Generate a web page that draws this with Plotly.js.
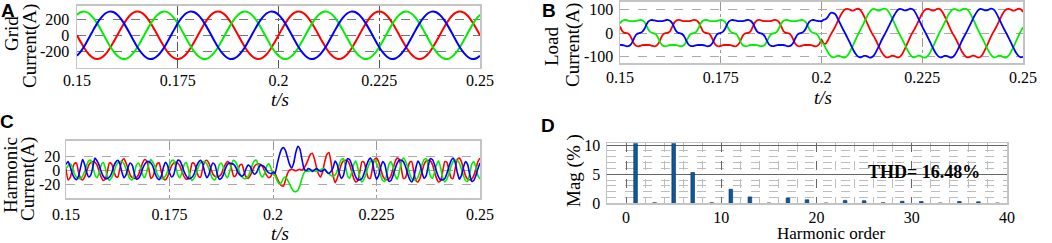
<!DOCTYPE html>
<html><head><meta charset="utf-8">
<script src="https://cdn.plot.ly/plotly-3.0.1.min.js"></script>
<style>html,body{margin:0;padding:0;background:#fff;}#chart{width:1052px;height:243px;}</style>
</head><body><div id="chart"></div>
<script>
// ---------- time bases ----------
const tStart = 0.15;
const dtGrid = 0.001;     // panel A sample step (s)
const dtLoad = 0.0005;    // panels B and C sample step (s)
const timeTicks = [0.15, 0.175, 0.2, 0.225, 0.25];
const timeTickText = ['0.15', '0.175', '0.2', '0.225', '0.25'];

// ---------- Panel A: grid current (A) ----------
const gridRed = [0,-91,-173,-239,-281,-295,-281,-239,-173,-91,0,91,173,239,281,295,281,239,173,91,
0,-91,-173,-239,-281,-295,-281,-239,-173,-91,0,91,173,239,281,295,281,239,173,91,
0,-91,-173,-239,-281,-295,-281,-239,-173,-91,0,91,173,239,281,295,281,239,173,91,
0,-91,-173,-239,-281,-295,-281,-239,-173,-91,0,91,173,239,281,295,281,239,173,91,
0,-91,-173,-239,-281,-295,-281,-239,-173,-91,0,91,173,239,281,295,281,239,173,91,0];
const gridGreen = [255,289,294,270,219,148,61,-31,-120,-197,-255,-289,-294,-270,-219,-148,-61,31,120,197,
255,289,294,270,219,148,61,-31,-120,-197,-255,-289,-294,-270,-219,-148,-61,31,120,197,
255,289,294,270,219,148,61,-31,-120,-197,-255,-289,-294,-270,-219,-148,-61,31,120,197,
255,289,294,270,219,148,61,-31,-120,-197,-255,-289,-294,-270,-219,-148,-61,31,120,197,
255,289,294,270,219,148,61,-31,-120,-197,-255,-289,-294,-270,-219,-148,-61,31,120,197,255];
const gridBlue = [-255,-197,-120,-31,61,148,219,270,294,289,255,197,120,31,-61,-148,-219,-270,-294,-289,
-255,-197,-120,-31,61,148,219,270,294,289,255,197,120,31,-61,-148,-219,-270,-294,-289,
-255,-197,-120,-31,61,148,219,270,294,289,255,197,120,31,-61,-148,-219,-270,-294,-289,
-255,-197,-120,-31,61,148,219,270,294,289,255,197,120,31,-61,-148,-219,-270,-294,-289,
-255,-197,-120,-31,61,148,219,270,294,289,255,197,120,31,-61,-148,-219,-270,-294,-289,-255];

// ---------- Panel B: load current (A) ----------
const loadRed = [28,10,2,0,-2,-10,-28,-45,-53,-56,-54,-51,-50,-50,-50,-51,-54,-56,-53,-45,-28,-10,-2,0,2,10,28,45,53,56,54,51,50,50,50,51,54,56,53,45,
28,10,2,0,-2,-10,-28,-45,-53,-56,-54,-51,-50,-50,-50,-51,-54,-56,-53,-45,-28,-10,-2,0,2,10,28,45,53,56,54,51,50,50,50,51,54,56,53,45,
28,10,2,0,-2,-10,-28,-45,-53,-56,-54,-51,-50,-50,-50,-51,-54,-56,-53,-45,-28,
-42,-45,-33,-16,
0,14,30,48,66,82,94,101,102,99,95,96,100,103,99,89,73,55,36,17,0,-14,-30,-48,-66,-82,-94,-101,-102,-99,-95,-96,-100,-103,-99,-89,
-73,-55,-36,-17,0,14,30,48,66,82,94,101,102,99,95,96,100,103,99,89,73,55,36,17,0,-14,-30,-48,-66,-82,-94,-101,-102,-99,-95,-96,-100,-103,-99,-89,
-73,-55,-36,-17,0,14,30,48,66,82,94,101,102,99,95,96,100,103,99,89];
const loadGreen = [40,51,55,55,52,50,50,50,51,53,55,54,48,34,16,5,1,-1,-7,-22,-40,-51,-55,-55,-52,-50,-50,-50,-51,-53,-55,-54,-48,-34,-16,-5,-1,1,7,22,
40,51,55,55,52,50,50,50,51,53,55,54,48,34,16,5,1,-1,-7,-22,-40,-51,-55,-55,-52,-50,-50,-50,-51,-53,-55,-54,-48,-34,-16,-5,-1,1,7,22,
40,51,55,55,52,50,50,50,51,53,55,54,48,34,16,5,1,-1,-7,-22,-40,
-45,-62,-78,-91,-99,-102,-99,-95,-96,-100,-103,-101,-93,-80,-63,-45,-26,-8,9,25,42,60,77,90,99,102,99,95,96,100,103,101,93,80,63,45,26,8,-9,-25,
-42,-60,-77,-90,-99,-102,-99,-95,-96,-100,-103,-101,-93,-80,-63,-45,-26,-8,9,25,42,60,77,90,99,102,99,95,96,100,103,101,93,80,63,45,26,8,-9,-25,
-42,-60,-77,-90,-99,-102,-99,-95,-96,-100,-103,-101,-93,-80,-63,-45,-26,-8,9,25];
const loadBlue = [-50,-50,-52,-55,-55,-51,-40,-22,-7,-1,1,5,16,34,48,54,55,53,51,50,50,50,52,55,55,51,40,22,7,1,-1,-5,-16,-34,-48,-54,-55,-53,-51,-50,
-50,-50,-52,-55,-55,-51,-40,-22,-7,-1,1,5,16,34,48,54,55,53,51,50,50,50,52,55,55,51,40,22,7,1,-1,-5,-16,-34,-48,-54,-55,-53,-51,-50,
-50,-50,-52,-55,-55,-51,-40,-22,-7,-1,1,5,16,34,48,54,55,53,51,50,50,
56,58,66,80,86,84,
78,62,45,27,11,-5,-22,-39,-57,-74,-88,-98,-102,-100,-96,-96,-99,-103,-101,-94,-80,-63,-45,-27,-11,5,22,39,57,74,88,98,102,100,
96,96,99,103,101,94,80,63,45,27,11,-5,-22,-39,-57,-74,-88,-98,-102,-100,-96,-96,-99,-103,-101,-94,-80,-63,-45,-27,-11,5,22,39,57,74,88,98,102,100,
96,96,99,103,101,94,80,63,45,27,11,-5,-22,-39,-57,-74,-88,-98,-102,-100];

// ---------- Panel C: harmonic current (A) ----------
const harmRed = [2,-14,-11,0,9,10,-2,-12,-14,-10,-2,7,11,12,11,7,-2,-10,-15,-13,-2,10,9,0,-9,-10,2,13,16,10,2,-7,-11,-12,-11,-7,2,10,15,13,
2,-12,-9,0,9,10,-2,-12,-14,-10,-2,6,10,11,10,6,-2,-9,-13,-12,-2,10,9,0,-9,-10,2,12,14,10,2,-6,-9,-10,-9,-6,2,8,12,10,
2,-9,-8,0,7,8,-2,-10,-12,-8,-2,5,8,9,8,5,-2,-8,-11,-9,-2,
-5,-12,-18,-22,-23,-15,-5,0,1,0,-1,0,1,0,3,8,15,22,24,16,4,-6,-10,-2,12,22,25,12,-8,-18,
-12,-2,8,13,14,13,8,-2,-12,-17,-15,-2,12,11,0,-11,-12,2,15,17,12,2,-8,-13,-14,-13,-8,2,12,17,15,
2,-12,-11,0,11,12,-2,-15,-17,-12,-2,8,13,14,13,8,-2,-12,-17,-15,-2,12,11,0,-11,-12,2,15,17,12,2,-8,-13,-14,-13,-8,2,12,17];
const harmGreen = [2,6,9,5,-5,-10,-12,-12,-9,-2,7,13,14,5,-7,-11,-4,7,11,3,-10,-15,-11,-5,5,10,12,12,9,2,-7,-13,-14,-5,7,10,4,-7,-11,-3,
9,15,11,5,-5,-10,-12,-12,-9,-2,7,13,14,5,-7,-11,-4,7,11,3,-10,-15,-11,-5,5,10,12,12,9,2,-7,-13,-14,-5,7,10,4,-7,-11,-3,
9,14,11,5,-5,-10,-12,-12,-9,-2,7,13,14,5,-7,-10,-4,6,9,3,-6,
-8,-15,-20,-18,-12,-10,-14,-20,-26,-30,-31,-29,-22,-12,-4,-1,-2,-1,0,-1,-2,-1,0,2,1,-2,-5,-8,-9,-7,-2,8,15,
16,6,-8,-12,-4,8,13,3,-11,-17,-13,-5,5,12,14,14,10,2,-8,-15,-16,-6,8,12,4,-8,-13,-3,
11,17,13,5,-5,-12,-14,-14,-10,-2,8,15,16,6,-8,-12,-4,8,13,3,-11,-17,-13,-5,5,12,14,14,10,2,-8,-15,-16,-6,8,12,4,-8,-13];
const harmBlue = [8,12,5,-5,-11,-14,-9,3,15,8,-4,-10,-7,5,17,13,7,-2,-9,-12,-12,-10,-5,5,11,14,9,-3,-11,-7,4,10,7,-5,-13,-12,-7,2,8,12,
12,10,5,-5,-11,-14,-9,3,11,7,-4,-10,-7,5,14,13,7,-2,-8,-12,-12,-10,-5,5,11,14,9,-3,-11,-7,4,10,7,-5,-13,-12,-7,2,8,10,
9,8,4,-3,-7,-9,-6,2,7,5,-2,-6,-4,3,7,6,4,-1,-4,-5,-4,
-4,8,20,29,32,28,18,8,3,10,25,34,30,15,2,-1,2,1,-2,0,2,0,-2,-1,1,-3,-5,-2,
3,13,8,-4,-12,-8,6,16,15,8,-2,-10,-14,-14,-12,-5,5,13,17,11,-3,-13,-8,4,12,8,-6,-16,-15,-8,2,10,14,
14,12,5,-5,-13,-17,-11,3,13,8,-4,-12,-8,6,16,15,8,-2,-10,-14,-14,-12,-5,5,13,17,11,-3,-13,-8,4,12,8,-6,-16,-15,-8,2,10];

// ---------- Panel D: spectrum ----------
const harmonicOrder = [1,3,5,7,9,11,13,15,17,19,21,23,25,27,29,31,33,35,37,39];
const magPercent = [100,0.1,15.3,5.3,0.1,2.4,1.1,0.05,0.9,0.6,0.05,0.5,0.45,0.1,0.35,0.3,0.05,0.3,0.25,0.05];
const thdText = 'THD= 16.48%';

// ---------- layout helpers ----------
const W = 1052, H = 243;
const fx = p => p / W;
const fy = p => 1 - p / H;
const SERIF = 'Liberation Serif, Times New Roman, serif';
const SANS = 'Liberation Sans, Arial, sans-serif';
const RED = '#ff0000', GREEN = '#00ee00', BLUE = '#0000ff';

function wave(y, color, xa, ya, dx, w) {
  return {type: 'scatter', mode: 'lines', x0: tStart, dx: dx, y: y, xaxis: xa, yaxis: ya,
          line: {color: color, width: w, shape: 'spline', smoothing: 0.6}, hoverinfo: 'skip'};
}

const traces = [
  wave(gridRed, RED, 'x', 'y', dtGrid, 2), wave(gridGreen, GREEN, 'x', 'y', dtGrid, 2), wave(gridBlue, BLUE, 'x', 'y', dtGrid, 2),
  wave(loadRed, RED, 'x2', 'y2', dtLoad, 1.8), wave(loadGreen, GREEN, 'x2', 'y2', dtLoad, 1.8), wave(loadBlue, BLUE, 'x2', 'y2', dtLoad, 1.8),
  wave(harmRed, RED, 'x3', 'y3', dtLoad, 1.6), wave(harmGreen, GREEN, 'x3', 'y3', dtLoad, 1.6), wave(harmBlue, BLUE, 'x3', 'y3', dtLoad, 1.6),
  {type: 'bar', x: harmonicOrder, y: magPercent, xaxis: 'x4', yaxis: 'y4', width: 0.38,
   marker: {color: '#0b5a9c', line: {color: '#0a2a50', width: 0.6}}, hoverinfo: 'skip'}
];

const tickFont = {family: SERIF, size: 16, color: '#000'};
const frame = {showline: true, mirror: true, linecolor: '#c4c4c4', linewidth: 1.5, zeroline: false, ticks: '', tickfont: tickFont, fixedrange: true};

function timeAxis(dom, anchor, gridColor, standoff) {
  return Object.assign({}, frame, {domain: dom, anchor: anchor, range: [0.15, 0.25], tickmode: 'array',
    tickvals: timeTicks, ticktext: timeTickText, showgrid: true, gridcolor: gridColor, griddash: 'dashdot', gridwidth: 1, ticklabelstandoff: standoff});
}
function valAxis(dom, anchor, rng, vals, gridColor, standoff) {
  return Object.assign({}, frame, {domain: dom, anchor: anchor, range: rng, tickmode: 'array', tickvals: vals,
    ticktext: vals.map(String), showgrid: true, gridcolor: gridColor, griddash: 'dash', gridwidth: 1, ticklabelstandoff: standoff});
}

const layout = {
  width: W, height: H, margin: {l: 0, r: 0, t: 0, b: 0}, showlegend: false,
  paper_bgcolor: '#fff', plot_bgcolor: '#fff',
  xaxis:  timeAxis([fx(77), fx(480)], 'y', '#555', -2),
  yaxis:  valAxis([fy(67.5), fy(5.5)], 'x', [-400, 370], [-200, 0, 200], '#777', 3),
  xaxis2: timeAxis([fx(620), fx(1023)], 'y2', '#999', -1),
  yaxis2: valAxis([fy(63.3), fy(1.7)], 'x2', [-127, 132], [-100, 0, 100], '#aaa', 2),
  xaxis3: timeAxis([fx(66), fx(480)], 'y3', '#999', 1),
  yaxis3: valAxis([fy(198.3), fy(140.7)], 'x3', [-40.4, 41.9], [-20, 0, 20], '#aaa', 1),
  xaxis4: Object.assign({}, frame, {domain: [fx(607), fx(1007)], anchor: 'y4', range: [-2, 40], tickmode: 'array',
    tickvals: [0, 10, 20, 30, 40], showgrid: true, gridcolor: '#666', griddash: 'dash', gridwidth: 1, ticklabelstandoff: -1,
    minor: {dtick: 2, tick0: 0, showgrid: true, gridcolor: '#bdbdbd', griddash: 'dash', gridwidth: 1, ticks: ''}}),
  yaxis4: Object.assign({}, frame, {domain: [fy(203.3), fy(143.3)], anchor: 'x4', range: [0, 10.3], tickmode: 'array',
    tickvals: [0, 5, 10], showgrid: true, gridcolor: '#666', gridwidth: 1, ticklabelstandoff: 2,
    minor: {dtick: 1, tick0: 0, showgrid: true, gridcolor: '#bdbdbd', griddash: 'dash', gridwidth: 1, ticks: ''}}),
  annotations: []
};

function label(text, x, y, opts) {
  layout.annotations.push(Object.assign({text: text, xref: 'paper', yref: 'paper', x: fx(x), y: fy(y),
    xanchor: 'center', yanchor: 'middle', showarrow: false, font: {family: SERIF, size: 19, color: '#000'}}, opts || {}));
}
const panelFont = {family: SANS, size: 19, color: '#000', weight: 'bold'};
label('<b>A</b>', 8, 10, {font: panelFont});
label('<b>B</b>', 549, 10, {font: panelFont});
label('<b>C</b>', 7, 121, {font: panelFont});
label('<b>D</b>', 548, 125, {font: panelFont});

label('Grid', 11, 34, {textangle: -90});
label('Current(A)', 30, 46, {textangle: -90});
label('Load', 551, 46, {textangle: -90});
label('Current(A)', 573, 45, {textangle: -90});
label('Harmonic', 10, 175, {textangle: -90});
label('Current(A)', 28, 179, {textangle: -90});
label('Mag (% )', 574, 171, {textangle: -90});

label('<i>t/s</i>', 280, 99);
label('<i>t/s</i>', 823, 97);
label('<i>t/s</i>', 280, 233);
label('Harmonic order', 831, 233, {font: {family: SERIF, size: 17, color: '#000'}});
label('<b>' + thdText + '</b>', 924, 172, {font: {family: SERIF, size: 18, color: '#000'}});

Plotly.newPlot('chart', traces, layout, {staticPlot: true, displayModeBar: false});
</script></body></html>
